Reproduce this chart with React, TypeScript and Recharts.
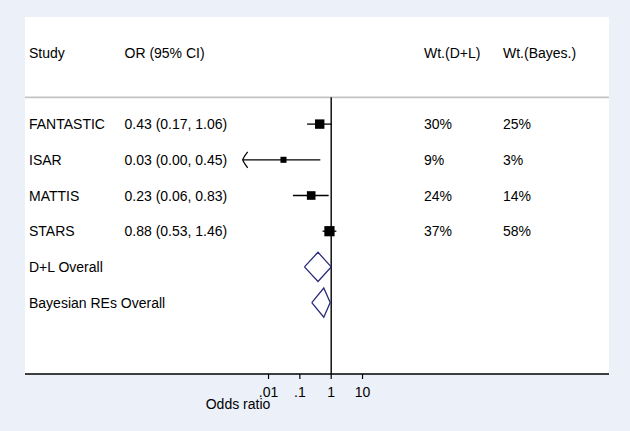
import {
  ComposedChart,
  XAxis,
  YAxis,
  Scatter,
  ReferenceLine,
  CartesianGrid,
} from 'recharts';

/* ------------------------------------------------------------------ */
/*  Data                                                               */
/* ------------------------------------------------------------------ */

const STUDIES = ['FANTASTIC', 'ISAR', 'MATTIS', 'STARS'];
const OR = [0.43, 0.03, 0.23, 0.88];
const CI_LO = [0.17, 0.001, 0.06, 0.53];
const CI_HI = [1.06, 0.45, 0.83, 1.46];
const WT_DL = [30, 9, 24, 37];
const WT_BAYES = [25, 3, 14, 58];

const POOLED = ['D+L Overall', 'Bayesian REs Overall'];
const POOLED_OR = [0.38, 0.58];
const POOLED_LO = [0.14, 0.24];
const POOLED_HI = [1.0, 0.93];

const HEADERS = ['Study', 'OR (95% CI)', 'Wt.(D+L)', 'Wt.(Bayes.)'];
const X_TICKS = [0.01, 0.1, 1, 10];
const X_TICK_LABELS = ['.01', '.1', '1', '10'];

/* ------------------------------------------------------------------ */
/*  Layout                                                             */
/* ------------------------------------------------------------------ */

const FONT = 'Liberation Sans, Arial, sans-serif';
const NAVY = '#2a2a78';
const COL_X = [29, 124.5, 424, 503];
const X_MIN = -9.773; // log10 units at left edge of plot
const X_MAX = 8.867;
const CLIP = 0.0015; // CIs below this get an arrow
const DIAMOND_H = 0.41;
const HEADER_ROW = -2;
const SEP_Y = -0.75;

const lg = (v: number) => Math.log10(v);
const fmt = (v: number) => v.toFixed(2);

const ciSeries = STUDIES.map((_, i) => [
  { x: lg(Math.max(CI_LO[i], CLIP)), y: i },
  { x: lg(CI_HI[i]), y: i },
]);

const boxData = STUDIES.map((_, i) => ({ x: lg(OR[i]), y: i, w: WT_DL[i] }));

const arrowData = STUDIES.map((_, i) => ({ x: lg(CLIP), y: i, lo: CI_LO[i] })).filter(
  (d) => d.lo < CLIP
);

const diamondSeries = POOLED.map((_, k) => {
  const y = STUDIES.length + k;
  return [
    { x: lg(POOLED_LO[k]), y },
    { x: lg(POOLED_OR[k]), y: y - DIAMOND_H },
    { x: lg(POOLED_HI[k]), y },
    { x: lg(POOLED_OR[k]), y: y + DIAMOND_H },
    { x: lg(POOLED_LO[k]), y },
  ];
});

// one text row per line of the table, placed through the y scale
const textRows = [
  { x: 0, y: HEADER_ROW, cells: HEADERS },
  ...STUDIES.map((s, i) => ({
    x: 0,
    y: i,
    cells: [s, `${fmt(OR[i])} (${fmt(CI_LO[i])}, ${fmt(CI_HI[i])})`, `${WT_DL[i]}%`, `${WT_BAYES[i]}%`],
  })),
  ...POOLED.map((p, k) => ({ x: 0, y: STUDIES.length + k, cells: [p] })),
];

/* ------------------------------------------------------------------ */
/*  Shapes                                                             */
/* ------------------------------------------------------------------ */

const NoShape = () => <g />;

function BoxShape(props: any) {
  const { cx, cy, payload } = props;
  const s = 2 + 1.35 * Math.sqrt(payload.w);
  return <rect x={cx - s / 2} y={cy - s / 2} width={s} height={s} fill="#000" />;
}

function ArrowShape(props: any) {
  const { cx, cy } = props;
  return (
    <path
      d={`M ${cx + 5} ${cy - 8} Q ${cx + 1} ${cy - 3} ${cx} ${cy} Q ${cx + 1} ${cy + 3} ${cx + 5} ${cy + 8}`}
      fill="none"
      stroke="#000"
      strokeWidth={1.2}
    />
  );
}

function RowText(props: any) {
  const { cy, payload } = props;
  return (
    <g>
      {(payload.cells as string[]).map((t, k) => (
        <text key={k} x={COL_X[k]} y={cy} dy="0.36em" fontSize={14} fontFamily={FONT} fill="#000">
          {t}
        </text>
      ))}
    </g>
  );
}

function AxisTitle() {
  return (
    <text x={238} y={409} textAnchor="middle" fontSize={14} fontFamily={FONT} fill="#000">
      Odds ratio
    </text>
  );
}

/* ------------------------------------------------------------------ */
/*  Component                                                          */
/* ------------------------------------------------------------------ */

export default function App() {
  return (
    <div style={{ width: 630, height: 431, background: '#ecf0f8' }}>
      <style>{'body{margin:0}'}</style>
      <ComposedChart width={630} height={431} margin={{ top: 17, right: 21, bottom: 17, left: 25 }}>
        <CartesianGrid horizontal={false} vertical={false} fill="#ffffff" />
        <XAxis
          type="number"
          dataKey="x"
          domain={[X_MIN, X_MAX]}
          allowDataOverflow
          ticks={X_TICKS.map(lg)}
          tickFormatter={(v: number) => X_TICK_LABELS[X_TICKS.findIndex((t) => Math.abs(lg(t) - v) < 1e-6)] ?? ''}
          axisLine={{ stroke: '#000', strokeWidth: 1.5 }}
          tickLine={{ stroke: '#000', strokeWidth: 1.2 }}
          tickSize={5}
          tickMargin={8}
          height={40}
          tick={{ fill: '#000', fontSize: 14, fontFamily: FONT }}
          label={<AxisTitle />}
        />
        <YAxis type="number" dataKey="y" domain={[-3, 7]} reversed hide />
        <ReferenceLine y={SEP_Y} stroke="#c4c4c4" strokeWidth={1.6} />
        <ReferenceLine
          segment={[
            { x: 0, y: SEP_Y },
            { x: 0, y: 7 },
          ]}
          stroke="#000"
          strokeWidth={1.4}
        />
        {ciSeries.map((d, i) => (
          <Scatter
            key={`ci${i}`}
            data={d}
            line={{ stroke: '#000', strokeWidth: 1.3 }}
            shape={<NoShape />}
            isAnimationActive={false}
          />
        ))}
        {diamondSeries.map((d, k) => (
          <Scatter
            key={`dm${k}`}
            data={d}
            line={{ stroke: NAVY, strokeWidth: 1.3 }}
            shape={<NoShape />}
            isAnimationActive={false}
          />
        ))}
        <Scatter data={boxData} shape={<BoxShape />} isAnimationActive={false} />
        <Scatter data={arrowData} shape={<ArrowShape />} isAnimationActive={false} />
        <Scatter data={textRows} shape={<RowText />} isAnimationActive={false} />
      </ComposedChart>
    </div>
  );
}
